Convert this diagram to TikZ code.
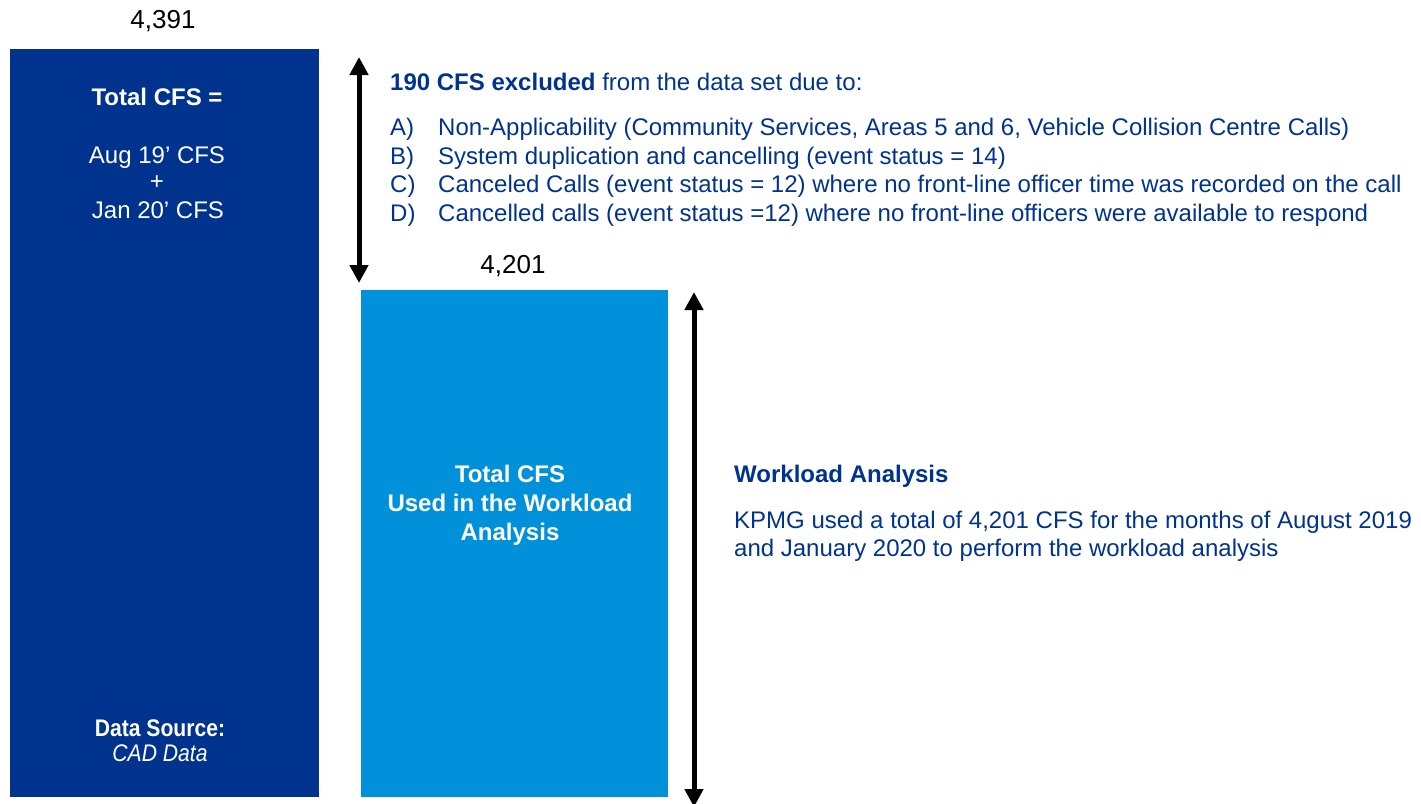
\documentclass[tikz,border=0pt]{standalone}
\usepackage{fontspec}
\setmainfont{Liberation Sans}
\usetikzlibrary{arrows.meta}
\definecolor{kdark}{HTML}{00338D}
\definecolor{klight}{HTML}{0091DA}
\tikzset{
  num/.style={font=\fontsize{26}{30}\selectfont, text=black, inner sep=0pt, anchor=base},
  boxtxt/.style={font=\fontsize{24}{28}\selectfont, text=white, inner sep=0pt, anchor=base},
  bluetxt/.style={font=\fontsize{24}{28.5}\selectfont, text=kdark, inner sep=0pt, anchor=base west},
  bigarrow/.style={line width=5pt, {Triangle[length=18pt,width=18pt]}-{Triangle[length=18pt,width=18pt]}}
}
\begin{document}
\begin{tikzpicture}[x=1pt,y=-1pt]
\useasboundingbox (0,0) rectangle (1421,803);
% bars
\fill[kdark] (10,49) rectangle (319,797);
\fill[klight] (361,290) rectangle (668,797);
% numbers
\node[num] (n1) at (163,28) {4,391};
\node[num] (n2) at (513,273) {4,201};
% dark box text
\node[boxtxt] (t1) at (157,105) {\textbf{Total CFS =}};
\node[boxtxt] (t2) at (157,163) {Aug 19’ CFS};
\node[boxtxt] (t3) at (157,189) {+};
\node[boxtxt] (t4) at (158,218) {Jan 20’ CFS};
\node[boxtxt] (t5) at (160,736) {\scalebox{0.88}[1]{\textbf{Data Source:}}};
\node[boxtxt] (t6) at (160,761) {\scalebox{0.88}[1]{\textit{CAD Data}}};
% light box text
\node[boxtxt] (l1) at (510,482) {\textbf{Total CFS}};
\node[boxtxt] (l2) at (510,511) {\textbf{Used in the Workload}};
\node[boxtxt] (l3) at (510,540) {\textbf{Analysis}};
% exclusion text
\node[bluetxt] (h1) at (390,90) {\textbf{190 CFS excluded} from the data set due to:};
\node[bluetxt] (a1) at (390,135) {A)};
\node[bluetxt] (a2) at (438,135) {Non-Applicability (Community Services, Areas 5 and 6, Vehicle Collision Centre Calls)};
\node[bluetxt] (b1) at (390,164) {B)};
\node[bluetxt] (b2) at (438,164) {System duplication and cancelling (event status = 14)};
\node[bluetxt] (c1) at (390,192) {C)};
\node[bluetxt] (c2) at (438,192) {Canceled Calls (event status = 12) where no front-line officer time was recorded on the call};
\node[bluetxt] (d1) at (390,221) {D)};
\node[bluetxt] (d2) at (438,221) {Cancelled calls (event status =12) where no front-line officers were available to respond};
% workload text
\node[bluetxt] (w1) at (734,482) {\textbf{Workload Analysis}};
\node[bluetxt] (w2) at (734,528) {KPMG used a total of 4,201 CFS for the months of August 2019};
\node[bluetxt] (w3) at (734,556) {and January 2020 to perform the workload analysis};
% arrows
\coordinate (la) at (359,57);
\coordinate (lb) at (359,283);
\coordinate (ra) at (694,292);
\coordinate (rb) at (694,807);
\draw[bigarrow] (la) -- (lb);
\draw[bigarrow] (ra) -- (rb);
\end{tikzpicture}
\end{document}
